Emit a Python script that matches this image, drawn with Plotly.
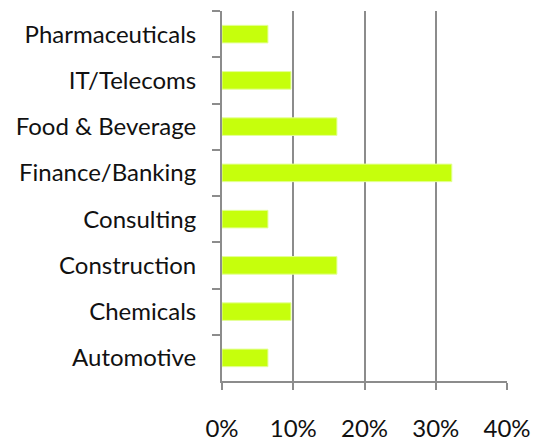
import plotly.graph_objects as go

categories = ["Pharmaceuticals", "IT/Telecoms", "Food & Beverage", "Finance/Banking",
              "Consulting", "Construction", "Chemicals", "Automotive"]
values = [6.45, 9.68, 16.13, 32.26, 6.45, 16.13, 9.68, 6.45]
tick_vals = [0, 10, 20, 30, 40]
tick_text = ["0%", "10%", "20%", "30%", "40%"]

fig = go.Figure(go.Bar(
    y=categories, x=values, orientation="h",
    marker=dict(color="#C6FF0C", line=dict(color="#E4FF9A", width=1)),
    width=0.38,
))

gray = "#8C8C8C"
fig.update_layout(
    width=534, height=437,
    margin=dict(l=214, r=35, t=3, b=58),
    paper_bgcolor="white", plot_bgcolor="white",
    font=dict(family="Lato", size=24, color="#111111"),
    showlegend=False,
    xaxis=dict(
        range=[0, 40], tickvals=tick_vals, ticktext=tick_text,
        showgrid=True, gridcolor=gray, gridwidth=2,
        showline=True, linecolor=gray, linewidth=2,
        ticks="outside", ticklen=7, tickcolor=gray, tickwidth=2,
        ticklabelstandoff=18, zeroline=False,
    ),
    yaxis=dict(
        categoryorder="array", categoryarray=categories, autorange="reversed",
        showline=True, linecolor=gray, linewidth=2,
        ticks="outside", ticklen=8, tickcolor=gray, tickwidth=2,
        tickson="boundaries", showgrid=False,
        ticklabelstandoff=19,
    ),
)

fig.write_html("out.html")
